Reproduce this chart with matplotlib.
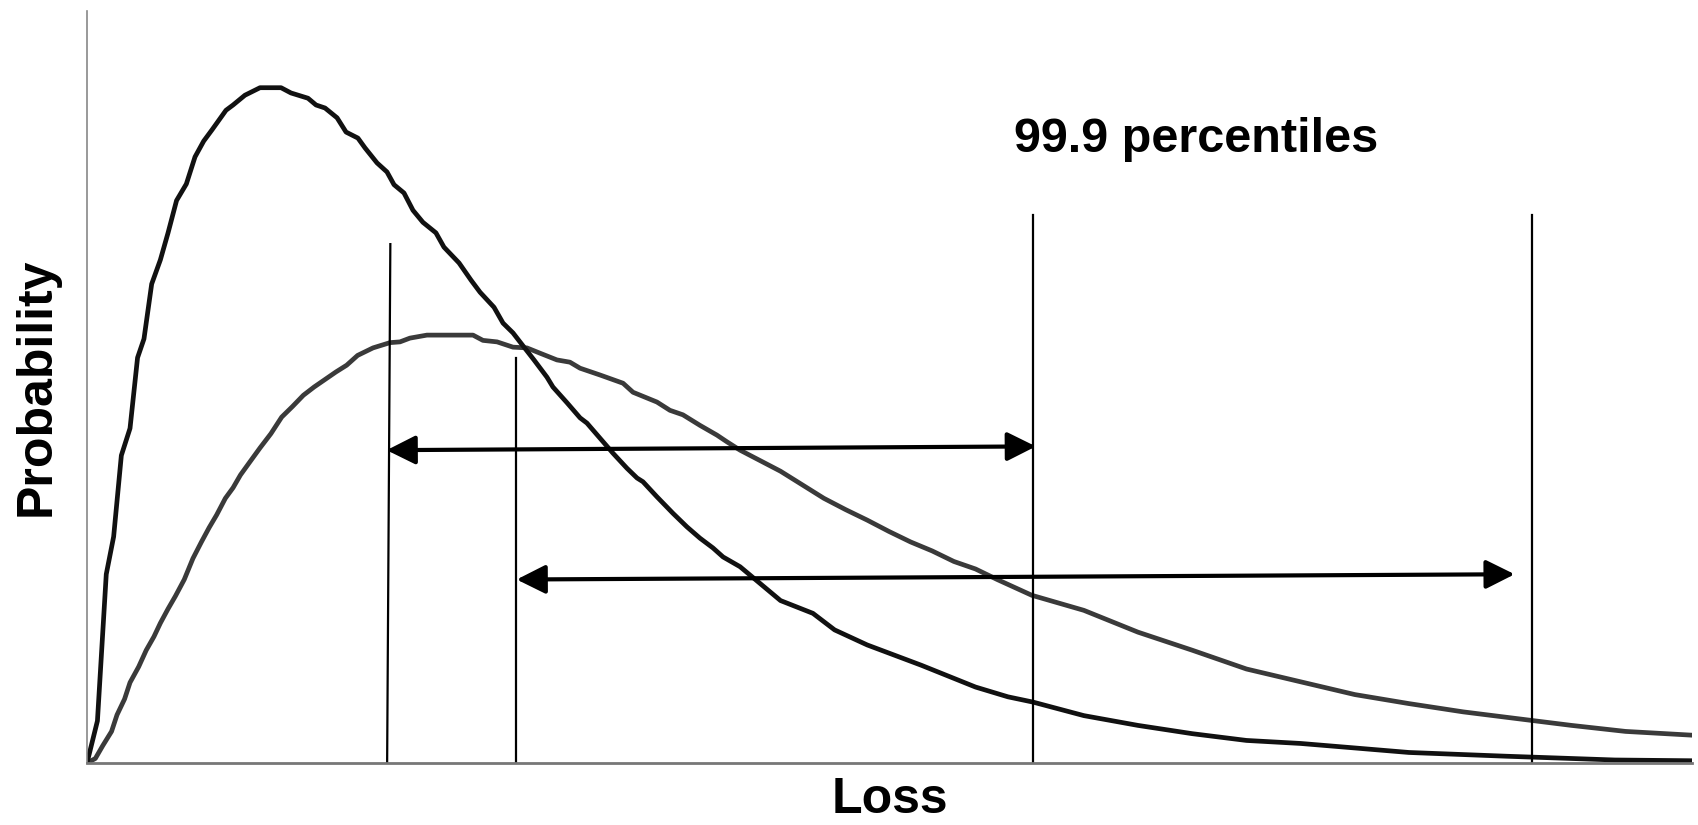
import matplotlib
matplotlib.use("Agg")
import matplotlib.pyplot as plt

plt.rcParams['font.family'] = ['Liberation Sans', 'DejaVu Sans']

# narrow loss distribution (black)
loss_a = [0, 0.65, 1.2, 1.66, 2.14, 2.68, 3.15, 3.55, 4.03, 4.57, 5.05, 5.58, 6.19, 6.73,
          7.27, 7.79, 8.66, 9.1, 9.84, 10.78, 12.09, 12.71, 13.77, 14.27, 14.83, 15.58,
          16.14, 16.88, 17.32, 18.07, 18.69, 19.13, 19.75, 20.31, 20.93, 21.74, 22.24,
          23.18, 23.93, 24.49, 25.36, 25.92, 26.54, 27.23, 27.85, 28.66, 29.03, 29.91,
          30.72, 31.15, 31.96, 32.77, 33.64, 34.27, 34.64, 35.51, 36.51, 37.38, 38.19,
          39.0, 39.63, 40.69, 43.21, 45.23, 46.58, 48.61, 51.98, 55.36, 57.38, 58.94,
          62.11, 65.48, 68.86, 72.24, 75.61, 78.99, 82.36, 88.44, 95.19, 100]
prob_a = [0, 0.056, 0.251, 0.301, 0.409, 0.445, 0.539, 0.564, 0.637, 0.669, 0.705, 0.748,
          0.770, 0.806, 0.827, 0.842, 0.868, 0.875, 0.888, 0.898, 0.898, 0.891, 0.884,
          0.875, 0.871, 0.858, 0.839, 0.831, 0.818, 0.798, 0.786, 0.769, 0.758, 0.735,
          0.719, 0.705, 0.686, 0.665, 0.642, 0.626, 0.606, 0.585, 0.572, 0.553, 0.536,
          0.513, 0.500, 0.479, 0.459, 0.452, 0.432, 0.412, 0.392, 0.379, 0.374, 0.354,
          0.332, 0.314, 0.299, 0.286, 0.274, 0.261, 0.216, 0.199, 0.177, 0.157, 0.130,
          0.101, 0.088, 0.081, 0.063, 0.050, 0.039, 0.030, 0.026, 0.020, 0.014, 0.009,
          0.004, 0.003]

# wide loss distribution (grey)
loss_b = [0, 0.52, 0.98, 1.53, 1.87, 2.34, 2.68, 3.22, 3.69, 4.17, 4.57, 5.05, 5.51, 6.06,
          6.6, 7.13, 7.61, 8.08, 8.62, 9.1, 9.56, 10.1, 10.78, 11.46, 12.13, 12.8, 13.48,
          14.15, 14.83, 15.51, 16.18, 16.86, 17.82, 18.88, 19.5, 20.12, 21.18, 24.05,
          24.67, 25.55, 26.54, 27.41, 28.22, 29.28, 30.09, 30.72, 31.96, 33.4, 34.02,
          35.51, 36.32, 37.13, 38.19, 39.25, 39.88, 40.69, 43.21, 44.56, 45.91, 47.26,
          48.61, 49.96, 51.31, 52.66, 54.01, 55.36, 56.71, 58.87, 62.11, 65.48, 68.86,
          72.24, 75.61, 78.99, 82.36, 85.74, 89.11, 92.49, 95.86, 100]
prob_b = [0, 0.006, 0.023, 0.042, 0.064, 0.085, 0.107, 0.128, 0.150, 0.168, 0.186, 0.205,
          0.222, 0.244, 0.272, 0.294, 0.313, 0.330, 0.352, 0.366, 0.383, 0.399, 0.419,
          0.438, 0.460, 0.474, 0.489, 0.500, 0.510, 0.520, 0.529, 0.542, 0.552, 0.559,
          0.560, 0.565, 0.569, 0.569, 0.562, 0.560, 0.553, 0.552, 0.545, 0.536, 0.533,
          0.525, 0.516, 0.505, 0.493, 0.480, 0.469, 0.463, 0.449, 0.436, 0.427, 0.416,
          0.388, 0.370, 0.352, 0.337, 0.323, 0.308, 0.294, 0.282, 0.268, 0.258, 0.244,
          0.223, 0.203, 0.174, 0.150, 0.125, 0.108, 0.091, 0.079, 0.068, 0.059, 0.050,
          0.042, 0.037]

# marker lines: (loss at bottom, loss at top, height)
vlines = [(18.7, 18.9, 0.690), (26.71, 26.71, 0.539), (58.92, 58.92, 0.729), (90.03, 90.03, 0.729)]
# ranges: (loss_start, prob_start, loss_end, prob_end)
ranges = [(18.67, 0.416, 59.12, 0.421), (26.77, 0.244, 88.95, 0.251)]

fig = plt.figure(figsize=(16.99, 8.25), dpi=100)
ax = fig.add_axes([87 / 1699, 62 / 825, 1605 / 1699, 752 / 825])

ax.plot(loss_b, prob_b, color="#3a3a3a", lw=3.4, solid_joinstyle="round")
ax.plot(loss_a, prob_a, color="#111111", lw=3.4, solid_joinstyle="round")

for x0, x1, h in vlines:
  ax.plot([x0, x1], [0, h], color="black", lw=1.6)

for xs, ys, xe, ye in ranges:
  ax.annotate("", xy=(xe, ye), xytext=(xs, ys),
              arrowprops=dict(arrowstyle="<|-|>,head_length=0.4,head_width=0.2",
                              mutation_scale=44, lw=3, color="black",
                              shrinkA=0, shrinkB=0))

ax.text(69.1, 0.8125, "99.9 percentiles", ha="center", va="baseline",
        fontsize=35, fontweight="bold")

ax.set_xlim(0, 100)
ax.set_ylim(0, 1)
ax.set_xticks([])
ax.set_yticks([])
for s in ["top", "right"]:
  ax.spines[s].set_visible(False)
ax.spines["left"].set_color("#888888")
ax.spines["left"].set_linewidth(1.2)
ax.spines["bottom"].set_color("#777777")
ax.spines["bottom"].set_linewidth(2)

ax.set_xlabel("Loss", fontsize=36, fontweight="bold")
ax.set_ylabel("Probability", fontsize=36, fontweight="bold")
ax.xaxis.set_label_coords(0.5, -0.018)
ax.yaxis.set_label_coords(-0.017, 0.5)

fig.savefig("out.png", dpi=100)
